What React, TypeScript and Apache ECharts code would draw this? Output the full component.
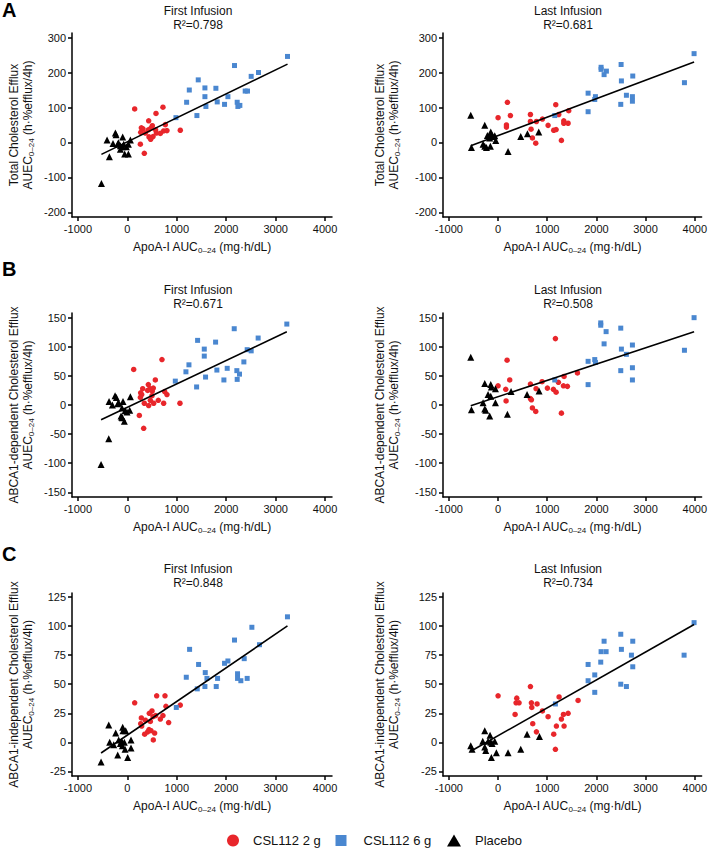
import React, { useEffect, useRef } from "react";
import * as echarts from "echarts";

// ---------- tick labels & text ----------
const X_TICKS = [-1000, 0, 1000, 2000, 3000, 4000];
const Y_TICKS_A = [-200, -100, 0, 100, 200, 300];
const Y_TICKS_B = [-150, -100, -50, 0, 50, 100, 150];
const Y_TICKS_C = [-25, 0, 25, 50, 75, 100, 125];
const GROUP_NAMES = ["CSL112 2 g", "CSL112 6 g", "Placebo"];
const COLUMN_TITLES = ["First Infusion", "Last Infusion"];
const R2_VALUES = ["0.798", "0.681", "0.671", "0.508", "0.848", "0.734"];
const ROW_LETTERS = ["A", "B", "C"];
const Y_NAMES = [
  "Total Cholesterol Efflux",
  "ABCA1-dependent Cholesterol Efflux",
  "ABCA1-independent Cholesterol Efflux",
];

// ---------- Panel A: Total cholesterol efflux ----------
const A_FIRST_2G = [[148,96],[720,101],[579,83],[768,51],[431,62],[1071,35],[283,42],[316,39],[505,48],[478,41],[424,36],[572,36],[734,33],[801,34],[364,27],[270,29],[586,27],[667,26],[519,17],[438,16],[471,9],[263,-5],[343,-31]];
const A_FIRST_6G = [[3240,246],[2168,220],[1434,179],[1253,150],[1569,156],[1791,155],[2505,189],[2653,200],[1569,131],[2034,131],[1199,115],[1818,116],[1589,103],[1966,109],[2384,147],[2431,147],[2222,115],[2236,103],[2276,106],[1407,77],[983,71]];
const A_FIRST_PL = [[-525,-117],[-411,7],[-242,27],[-229,22],[-364,-41],[-94,16],[-290,-3],[-195,-5],[-141,-9],[-101,-12],[-74,-5],[-20,-12],[20,-5],[61,7],[-54,-33],[20,-33],[-141,-19],[-182,-1]];
const A_LAST_2G = [[0,71],[190,115],[251,77],[658,80],[170,50],[170,44],[658,60],[780,60],[902,67],[671,38],[1017,49],[698,13],[766,-2],[1173,108],[1234,80],[1437,91],[1336,62],[1336,55],[1424,55],[1132,35],[1180,37],[1288,6]];
const A_LAST_6G = [[3986,254],[3790,171],[2095,215],[2095,209],[2203,204],[2156,194],[2502,223],[2508,176],[2739,190],[1831,141],[1980,131],[1966,123],[1831,88],[2610,135],[2732,131],[2732,118],[2495,109],[1153,77]];
const A_LAST_PL = [[-556,78],[-271,49],[-542,-14],[-305,-5],[-271,-11],[-237,-14],[-217,20],[-156,-11],[-149,30],[-136,24],[-115,17],[-170,13],[-68,19],[-47,6],[203,-26],[461,17],[597,25],[827,30]];

// ---------- Panel B: ABCA1-dependent ----------
const B_FIRST_2G = [[128,61],[700,78],[566,43],[424,35],[310,28],[458,28],[525,29],[411,25],[505,24],[754,23],[801,18],[269,21],[290,18],[498,16],[263,13],[626,8],[465,8],[343,3],[532,3],[734,3],[431,-1],[1064,3],[242,-18],[330,-40]];
const B_FIRST_6G = [[3226,139],[2162,131],[1421,111],[1785,108],[2646,115],[1556,96],[1556,84],[2424,95],[2505,93],[2357,74],[1246,69],[1185,57],[1811,60],[2020,63],[2215,59],[2269,53],[1582,48],[1953,43],[2222,44],[970,41],[1401,31]];
const B_FIRST_PL = [[-532,-102],[-377,-58],[-370,6],[-303,0],[-249,16],[-222,13],[-175,4],[-195,2],[-88,6],[-108,-5],[-128,-19],[-101,-22],[-61,-28],[-114,-21],[-7,-12],[47,-9],[61,14],[-47,-10]];
const B_LAST_2G = [[1166,114],[183,77],[237,43],[0,33],[658,36],[895,40],[1342,49],[1614,55],[1227,39],[1329,33],[1410,32],[1003,29],[773,28],[156,27],[1125,27],[1180,22],[658,11],[678,9],[163,7],[698,-5],[766,-11],[1288,-14]];
const B_LAST_6G = [[3986,150],[3790,94],[2088,141],[2088,137],[2197,126],[2156,105],[2495,132],[2508,96],[2732,103],[2610,87],[1966,78],[1980,73],[1831,75],[1831,35],[2732,64],[2732,43],[2495,59],[1153,43]];
const B_LAST_PL = [[-556,82],[-271,37],[-149,35],[-136,31],[-54,28],[-203,18],[-149,15],[-305,4],[-54,4],[-271,-7],[-251,-9],[-542,-8],[-170,-19],[190,-16],[264,23],[590,18],[834,24]];

// ---------- Panel C: ABCA1-independent ----------
const C_FIRST_2G = [[148,34],[593,40],[761,40],[781,31],[1071,32],[498,27],[444,25],[572,23],[519,22],[720,23],[667,20],[283,21],[364,19],[465,18],[270,16],[835,17],[290,14],[438,11],[478,10],[411,9],[552,8],[350,7],[525,2]];
const C_FIRST_6G = [[3239,108],[2519,99],[2673,84],[2168,88],[1259,80],[1441,67],[1966,68],[2034,70],[2364,72],[1192,56],[1576,60],[1610,55],[1825,55],[2229,59],[2229,55],[2296,53],[2424,55],[1569,48],[1798,48],[1414,46],[990,30]];
const C_FIRST_PL = [[-532,-17],[-377,15],[-236,8],[-94,13],[-34,10],[-88,10],[-357,0],[-276,-2],[-195,-11],[-141,-1],[-114,1],[-101,-3],[-61,0],[-47,-6],[7,-13],[74,-5],[74,2],[-175,2]];
const C_LAST_2G = [[0,40],[658,48],[380,38],[366,34],[427,34],[678,34],[793,33],[685,30],[346,24],[902,27],[1241,39],[1627,36],[1017,22],[1288,20],[1329,24],[1424,25],[1342,14],[705,16],[1186,14],[780,9],[1132,7],[1166,-6]];
const C_LAST_6G = [[3986,103],[3783,75],[2495,93],[2156,87],[2739,87],[2095,78],[2197,78],[2508,80],[2088,69],[2712,75],[2739,65],[1831,67],[1831,53],[1966,58],[1966,43],[2495,50],[2610,48],[1166,33]];
const C_LAST_PL = [[-556,-3],[-529,-6],[-271,10],[-312,1],[-271,-4],[-251,-7],[-203,1],[-163,6],[-149,0],[-122,-1],[-68,1],[-34,-9],[-136,-13],[203,-9],[461,-6],[590,7],[841,5]];

// regression fits (intercept, slope) per panel: A first, A last, B first, B last, C first, C last
const FIT_INTERCEPTS = [2, 19.8, -3.9, 14.2, 6.2, 5.7];
const FIT_SLOPES = [0.0685, 0.0527, 0.0402, 0.028, 0.029, 0.024];

const PANEL_DATA = [
  [A_FIRST_2G, A_FIRST_6G, A_FIRST_PL],
  [A_LAST_2G, A_LAST_6G, A_LAST_PL],
  [B_FIRST_2G, B_FIRST_6G, B_FIRST_PL],
  [B_LAST_2G, B_LAST_6G, B_LAST_PL],
  [C_FIRST_2G, C_FIRST_6G, C_FIRST_PL],
  [C_LAST_2G, C_LAST_6G, C_LAST_PL],
];
const ROW_Y_TICKS = [Y_TICKS_A, Y_TICKS_B, Y_TICKS_C];

const FONT = '"Liberation Sans", Arial, sans-serif';
const TEXT_COLOR = "#111";
const COLORS = ["#e8262b", "#4a87d0", "#000000"];
const SYMBOLS = ["circle", "rect", "triangle"];
const SYMBOL_SIZES = [5.5, 5, 7];

export default function App() {
  const ref = useRef<HTMLDivElement>(null);

  useEffect(() => {
    if (!ref.current) return;
    const chart = echarts.init(ref.current, undefined, { renderer: "svg" });

    const rowTops = [33, 313, 593];
    const rowHeights = [184, 184, 183];
    const rowRanges = [[-213, 313], [-158, 158], [-29, 128.5]];
    const colLefts = [72, 443];
    const plotWidth = 260;
    const yNameGaps = [37, 42];
    const plain = (v: number) => String(v);

    const grids: any[] = [];
    const xAxes: any[] = [];
    const yAxes: any[] = [];
    const series: any[] = [];
    const graphics: any[] = [];

    const rich = {
      s: { fontSize: 8, lineHeight: 8, verticalAlign: "bottom", fontFamily: FONT, color: TEXT_COLOR },
    };

    for (let r = 0; r < 3; r++) {
      graphics.push({
        type: "text",
        x: 2,
        y: [0, 259, 544][r],
        style: {
          text: ROW_LETTERS[r],
          font: `bold 20px ${FONT}`,
          lineHeight: 20,
          fill: "#000",
          align: "left",
          verticalAlign: "top",
        },
      });
      for (let c = 0; c < 2; c++) {
        const i = r * 2 + c;
        grids.push({ left: colLefts[c], top: rowTops[r], width: plotWidth, height: rowHeights[r] });
        const axisLine = { show: true, onZero: false, lineStyle: { color: "#000", width: 1.5 } };
        xAxes.push({
          gridIndex: i,
          type: "value",
          min: -1120,
          max: 4140,
          axisLine,
          axisTick: { show: true, length: 4, customValues: X_TICKS, lineStyle: { color: "#000", width: 1.5 } },
          axisLabel: { customValues: X_TICKS, formatter: plain, margin: 6, fontSize: 11, color: TEXT_COLOR, fontFamily: FONT },
          splitLine: { show: false },
          name: "ApoA-I AUC{s|0–24} (mg·h/dL)",
          nameLocation: "middle",
          nameGap: 23,
          nameTextStyle: { fontSize: 12, lineHeight: 14, color: TEXT_COLOR, fontFamily: FONT, rich },
        });
        const yt = ROW_Y_TICKS[r];
        yAxes.push({
          gridIndex: i,
          type: "value",
          min: rowRanges[r][0],
          max: rowRanges[r][1],
          axisLine,
          axisTick: { show: true, length: 4, customValues: yt, lineStyle: { color: "#000", width: 1.5 } },
          axisLabel: { customValues: yt, formatter: plain, margin: 6, fontSize: 11, color: TEXT_COLOR, fontFamily: FONT },
          splitLine: { show: false },
          name: `${Y_NAMES[r]}\nAUEC{s|0–24} (h·%efflux/4h)`,
          nameLocation: "middle",
          nameGap: yNameGaps[c],
          nameTextStyle: { fontSize: 12, lineHeight: 14, color: TEXT_COLOR, fontFamily: FONT, rich },
        });

        const groups = PANEL_DATA[i];
        groups.forEach((data, g) => {
          series.push({
            type: "scatter",
            name: GROUP_NAMES[g],
            xAxisIndex: i,
            yAxisIndex: i,
            data,
            symbol: SYMBOLS[g],
            symbolSize: SYMBOL_SIZES[g],
            itemStyle: { color: COLORS[g], opacity: 1 },
            z: 2,
          });
        });
        const allX = groups.flat().map((p) => p[0]);
        const x0 = Math.min(...allX);
        const x1 = Math.max(...allX);
        const a = FIT_INTERCEPTS[i];
        const b = FIT_SLOPES[i];
        series.push({
          type: "line",
          name: "fit",
          xAxisIndex: i,
          yAxisIndex: i,
          data: [[x0, a + b * x0], [x1, a + b * x1]],
          symbol: "none",
          showSymbol: false,
          lineStyle: { color: "#000", width: 1.6 },
          silent: true,
          z: 3,
        });

        graphics.push({
          type: "text",
          x: c === 0 ? 198 : 568,
          y: [4, 283, 562][r],
          style: {
            text: `${COLUMN_TITLES[c]}\nR²=${R2_VALUES[i]}`,
            font: `12px ${FONT}`,
            lineHeight: 14,
            fill: TEXT_COLOR,
            align: "center",
            verticalAlign: "top",
          },
        });
      }
    }

    const legendBase = {
      orient: "horizontal",
      top: 834,
      padding: 0,
      itemGap: 0,
      selectedMode: false,
      textStyle: { fontSize: 13, color: TEXT_COLOR, fontFamily: FONT, padding: [0, 0, 0, 9] },
    };

    chart.setOption({
      animation: false,
      backgroundColor: "#fff",
      textStyle: { fontFamily: FONT },
      grid: grids,
      xAxis: xAxes,
      yAxis: yAxes,
      series,
      legend: [
        { ...legendBase, left: 227, itemWidth: 12, itemHeight: 12, data: [{ name: GROUP_NAMES[0], icon: "circle" }] },
        { ...legendBase, left: 335.5, itemWidth: 11, itemHeight: 11, textStyle: { ...legendBase.textStyle, padding: [0, 0, 0, 12] }, data: [{ name: GROUP_NAMES[1], icon: "rect" }] },
        { ...legendBase, left: 447, itemWidth: 14, itemHeight: 12, data: [{ name: GROUP_NAMES[2], icon: "triangle" }] },
      ],
      graphic: graphics,
    });

    return () => chart.dispose();
  }, []);

  return (
    <div
      ref={ref}
      style={{ position: "fixed", left: 0, top: 0, width: 710, height: 852, background: "#fff" }}
    />
  );
}
